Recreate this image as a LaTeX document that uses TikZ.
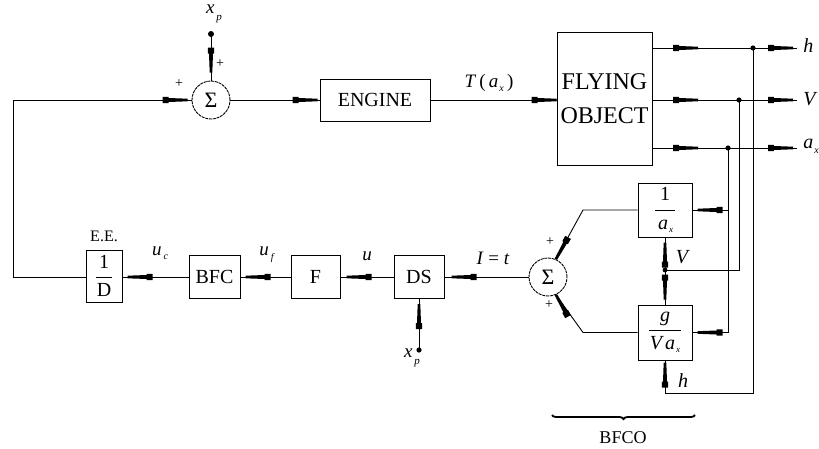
\documentclass[tikz,border=0pt]{standalone}
\usepackage{fontspec}
\setmainfont{Liberation Serif}
\usetikzlibrary{decorations.pathreplacing,calc}
\newcommand{\fsz}[1]{\fontsize{#1}{#1}\selectfont}
\newcommand{\myfr}[2]{$\displaystyle\frac{\mbox{#1}}{\mbox{#2}}$}
\begin{document}
\begin{tikzpicture}[x=1pt,y=-1pt,line width=0.9pt,
  box/.style={draw,inner sep=0pt,line width=1pt,font=\fsz{20}},
  sumc/.style={circle,draw,minimum size=38pt,inner sep=0pt,dash pattern=on 3pt off 0.8pt,font=\fsz{22}},
  lab/.style={inner sep=0pt,font=\fsz{19}},
  plus/.style={inner sep=0pt,font=\fsz{14}},
  mk/.pic={\fill (0pt,-1.3pt) -- (-19pt,-2pt) -- (-19pt,-3.2pt) -- (-25pt,-3.2pt) -- (-25pt,3.2pt) -- (-19pt,3.2pt) -- (-19pt,2pt) -- (0pt,1.3pt) -- cycle;}]
\useasboundingbox (0,0) rectangle (819,448);

% ---- top row
\node[sumc] (s1) at (211,100) {Σ};
\node[box,minimum width=110,minimum height=42] (eng) at (375,100) {ENGINE};
\node[box,minimum width=95,minimum height=133,align=center,font=\fsz{24}] (fo) at (604.5,98.5) {FLYING\\[10pt]OBJECT};
\coordinate (xt) at (211,34);
\node[lab] (xtl) at (214,14) {\textit{x}\raisebox{-7pt}{\fsz{11}\kern2pt\textit{p}}};
\fill (xt) circle (3);
\draw (xt) -- (s1.north);
\pic[rotate=-90] at ([yshift=8pt]s1.north) {mk};
\node[plus] at (220,64) {+};
\node[plus] at (179,84) {+};
\draw (s1.east) -- (eng.west);
\pic at ([xshift=-2pt]eng.west) {mk};
\draw (eng.east) -- (eng.east -| fo.west);
\pic at (eng.east -| fo.west) {mk};
\node[lab] (tl) at (489,83) {\textit{T}\,(\,\textit{a}\raisebox{-4pt}{\fsz{10}\kern1pt\textit{x}}\,)};

% ---- outputs
\coordinate (dh) at (753,48);
\coordinate (dv) at (739,100);
\coordinate (da) at (728,148);
\coordinate (eh) at (797,48);
\coordinate (ev) at (797,100);
\coordinate (ea) at (797,148);
\draw (fo.east |- dh) -- (eh);
\draw (fo.east |- dv) -- (ev);
\draw (fo.east |- da) -- (ea);
\foreach \yy in {48,100,148}{\pic at (698,\yy) {mk}; \pic at (793,\yy) {mk};}
\fill (dh) circle (2.6); \fill (dv) circle (2.6); \fill (da) circle (2.6);
\node[lab,anchor=west,font=\fsz{20}] (lh) at (803,46) {\textit{h}};
\node[lab,anchor=west,font=\fsz{20}] (lv) at (803,99) {\textit{V}};
\node[lab,anchor=west,font=\fsz{20}] (la) at (803,146) {\textit{a}\raisebox{-5pt}{\fsz{10}\kern1pt\textit{x}}};

% ---- BFCO blocks
\node[box,minimum width=54,minimum height=54] (bA) at (665,210) {\myfr{1}{\kern3pt\itshape a\raisebox{-3pt}{\fsz{9}\kern1pt x}\kern2pt}};
\node[box,minimum width=54,minimum height=55] (bB) at (665,332.5) {\myfr{\itshape g}{\kern1pt\itshape V\kern3pt a\raisebox{-3pt}{\fsz{9}\kern1pt x}\kern1pt}};
\coordinate (vj) at (665,270);
\coordinate (hb) at (753,393);
\draw (dh) |- (bB.south |- hb) -- (bB.south);
\draw (dv) |- (vj);
\draw (vj) -- (bA.south);
\draw (vj) -- (bB.north);
\fill (vj) circle (2.4);
\draw (da) |- (bB.east);
\draw (bA.east) -- (bA.east -| da);
\pic[rotate=180] at ([xshift=5pt]bA.east) {mk};
\pic[rotate=180] at ([xshift=5pt]bB.east) {mk};
\pic[rotate=90] at ([yshift=-5pt]bA.south) {mk};
\pic[rotate=-90] at ([yshift=5pt]bB.north) {mk};
\pic[rotate=90] at ([yshift=-2pt]bB.south) {mk};
\node[lab,font=\fsz{20}] (lvv) at (683,257) {\textit{V}};
\node[lab,font=\fsz{20}] (lhh) at (683,381) {\textit{h}};

% ---- second summation
\node[sumc] (s2) at (548,277) {Σ};
\coordinate (ca) at (583,210);
\coordinate (cb) at (583,332.5);
\draw (bA.west) -- (ca) -- (s2.66);
\draw (bB.west) -- (cb) -- (s2.-66);
\pic[rotate=-119] at (s2.66) {mk};
\pic[rotate=119] at (s2.-66) {mk};
\node[plus] at (550,242) {+};
\node[plus] at (549,305) {+};

% ---- bottom row
\node[box,minimum width=50,minimum height=43] (ds) at (419,277) {DS};
\node[box,minimum width=49,minimum height=43] (ff) at (315.5,277) {F};
\node[box,minimum width=51,minimum height=43] (bfc) at (214.5,277) {BFC};
\node[box,minimum width=36,minimum height=52] (dd) at (104,276) {\myfr{1}{\kern1pt D\kern1pt}};
\node[lab,font=\fsz{16}] (ee) at (104,236) {E.E.};
\draw (s2.west) -- (s2.west -| ds.east);
\draw (ds.west) -- (ds.west -| ff.east);
\draw (ff.west) -- (ff.west -| bfc.east);
\draw (bfc.west) -- (bfc.west -| dd.east);
\pic[rotate=180] at ([xshift=7pt]ds.east |- s2.west) {mk};
\pic[rotate=180] at ([xshift=6pt]ff.east) {mk};
\pic[rotate=180] at ([xshift=5pt]bfc.east) {mk};
\pic[rotate=180] at ([xshift=5pt]dd.east |- bfc.west) {mk};
\coordinate (lc) at (13,277);
\draw (dd.west |- lc) -- (lc) |- (s1.west);
\pic at ([xshift=-4pt]s1.west) {mk};
\coordinate (xd) at (419,350);
\draw (xd) -- (ds.south);
\fill (xd) circle (2.6);
\pic[rotate=90] at ([yshift=-5pt]ds.south) {mk};
\node[lab] (xdl) at (412,358) {\textit{x}\raisebox{-7pt}{\fsz{11}\kern2pt\textit{p}}};
\node[lab] (luc) at (160,253) {\textit{u}\raisebox{-4pt}{\fsz{10}\kern2pt\textit{c}}};
\node[lab] (luf) at (267,255) {\textit{u}\raisebox{-5pt}{\fsz{10}\kern2pt\textit{f}}};
\node[lab] (lu) at (367,256) {\textit{u}};
\node[lab] (lit) at (493,258) {\textit{I} = \textit{t}};

% ---- brace
\coordinate (b1) at (552,415);
\coordinate (b2) at (695,415);
\draw[line width=1.8pt,decorate,decoration={brace,mirror,amplitude=4pt}] (b1) -- (b2);
\node[lab,font=\fsz{18}] (bfco) at (623,438) {BFCO};
\end{tikzpicture}
\end{document}
